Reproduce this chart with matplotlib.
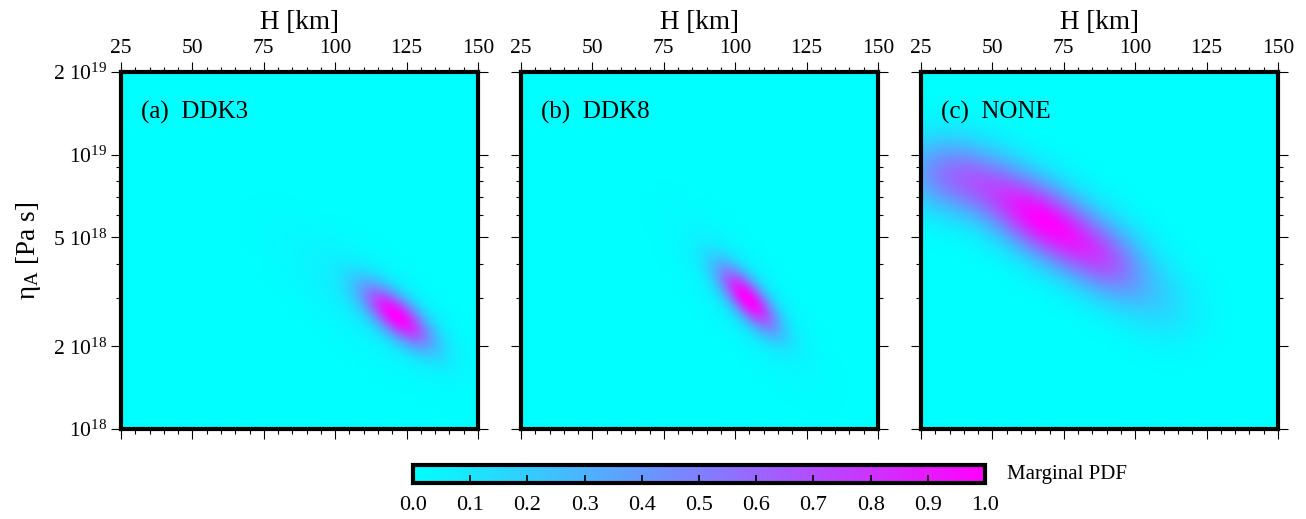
import numpy as np
import matplotlib
matplotlib.use('Agg')
import matplotlib.pyplot as plt
from matplotlib.colors import LinearSegmentedColormap
from matplotlib.ticker import FixedLocator, MultipleLocator

plt.rcParams['font.family'] = 'Liberation Serif'
plt.rcParams['mathtext.fontset'] = 'custom'
plt.rcParams['mathtext.rm'] = 'Liberation Serif'
plt.rcParams['mathtext.it'] = 'Liberation Serif:italic'

# panel labels
panel_labels = ['(a)  DDK3', '(b)  DDK8', '(c)  NONE']

# axis ranges
H_min, H_max = 25, 150
eta_min, eta_max = 1e18, 2e19
H_ticks = [25, 50, 75, 100, 125, 150]
eta_ticks = [1e18, 2e18, 5e18, 1e19, 2e19]
eta_tick_labels = [r'$10^{18}$', r'2 $10^{18}$', r'5 $10^{18}$', r'$10^{19}$', r'2 $10^{19}$']
eta_minor = [3e18, 4e18, 6e18, 7e18, 8e18, 9e18]
cb_ticks = [0.0, 0.1, 0.2, 0.3, 0.4, 0.5, 0.6, 0.7, 0.8, 0.9, 1.0]

# PDF blobs: centre (H, log10 eta), widths along/across
# (fraction of panel), tilt (deg), relative amplitude
a_H = [121.6, 113.0]
a_logeta = [18.414, 18.45]
a_along = [0.082, 0.19]
a_across = [0.033, 0.07]
a_tilt = [-41, -38]
a_amp = [1.0, 0.08]

b_H = [104.5, 103.0]
b_logeta = [18.476, 18.48]
b_along = [0.078, 0.17]
b_across = [0.029, 0.06]
b_tilt = [-49, -50]
b_amp = [1.0, 0.08]

c_H = [35, 68, 92, 110]
c_logeta = [18.92, 18.76, 18.60, 18.45]
c_along = [0.10, 0.15, 0.09, 0.08]
c_across = [0.07, 0.065, 0.065, 0.07]
c_tilt = [-15, -33, -42, -40]
c_amp = [0.4, 0.9, 0.3, 0.10]

blobs = [
    (a_H, a_logeta, a_along, a_across, a_tilt, a_amp),
    (b_H, b_logeta, b_along, b_across, b_tilt, b_amp),
    (c_H, c_logeta, c_along, c_across, c_tilt, c_amp),
]

lmin, lmax = np.log10(eta_min), np.log10(eta_max)
Hg = np.linspace(H_min, H_max, 400)
Lg = np.linspace(lmin, lmax, 400)
HH, LL = np.meshgrid(Hg, Lg)
U = (HH - H_min) / (H_max - H_min)
V = (LL - lmin) / (lmax - lmin)


def pdf_field(Hs, Ls, sa, sc, tilt, amp):
    Z = np.zeros_like(U)
    for h, l, s1, s2, t, A in zip(Hs, Ls, sa, sc, tilt, amp):
        u0 = (h - H_min) / (H_max - H_min)
        v0 = (l - lmin) / (lmax - lmin)
        th = np.radians(t)
        du, dv = U - u0, V - v0
        p = du * np.cos(th) + dv * np.sin(th)
        q = -du * np.sin(th) + dv * np.cos(th)
        Z += A * np.exp(-0.5 * (p**2 / s1**2 + q**2 / s2**2))
    return Z / Z.max()


cmap = LinearSegmentedColormap.from_list('cm', ['#00ffff', '#ff00ff'])

W, Hpx = 1306, 519
fig = plt.figure(figsize=(W / 100, Hpx / 100), dpi=100)

lefts = [121, 521, 921]
for i, x0 in enumerate(lefts):
    ax = fig.add_axes([x0 / W, 1 - 429 / Hpx, 357 / W, 357 / Hpx])
    Z = pdf_field(*blobs[i])
    mesh = ax.pcolormesh(Hg, 10**Lg, Z, cmap=cmap, vmin=0, vmax=1, shading='gouraud', rasterized=True)
    ax.set_yscale('log')
    ax.set_xlim(H_min, H_max)
    ax.set_ylim(eta_min, eta_max)

    ax.xaxis.set_major_locator(FixedLocator(H_ticks))
    ax.xaxis.set_minor_locator(MultipleLocator(5))
    ax.yaxis.set_major_locator(FixedLocator(eta_ticks))
    ax.yaxis.set_minor_locator(FixedLocator(eta_minor))
    ax.set_yticklabels(eta_tick_labels)
    ax.yaxis.set_minor_formatter(plt.NullFormatter())

    ax.tick_params(which='both', direction='out', top=True, bottom=True, left=True, right=True,
                   labeltop=True, labelbottom=False, labelleft=(i == 0), labelright=False,
                   width=0.8, labelsize=15.5, pad=3)
    ax.tick_params(which='major', length=7)
    ax.tick_params(which='minor', length=3.5)
    ax.xaxis.set_label_position('top')
    ax.set_xlabel('H [km]', fontsize=19.5, labelpad=7)
    if i == 0:
        ax.set_ylabel(r'$\mathrm{\eta}_\mathrm{A}$ [Pa s]', fontsize=19.5, labelpad=7)
    for s in ax.spines.values():
        s.set_linewidth(3)
    ax.text(0.056, 0.888, panel_labels[i], transform=ax.transAxes, fontsize=18,
            va='center', ha='left')

cax = fig.add_axes([413 / W, 1 - 483 / Hpx, 572 / W, 18 / Hpx])
cb = fig.colorbar(mesh, cax=cax, orientation='horizontal', ticks=cb_ticks)
cb.outline.set_linewidth(3)
cax.set_xticklabels(['%.1f' % t for t in cb_ticks])
cax.tick_params(direction='in', length=6, width=1.2, labelsize=16, pad=9)
fig.text(1007 / W, 1 - 475 / Hpx, 'Marginal PDF', fontsize=15, va='center', ha='left')

fig.savefig('out.png', dpi=100)
